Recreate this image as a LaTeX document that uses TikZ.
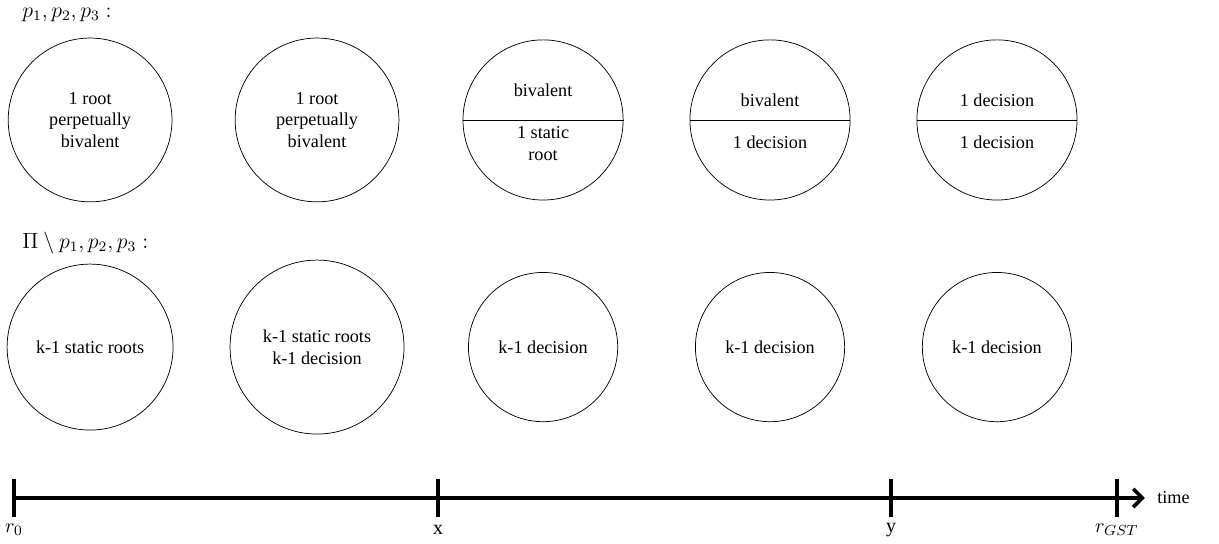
\documentclass[tikz,border=0pt]{standalone}
\usepackage[no-math]{fontspec}
\setmainfont{Liberation Serif}
\usepackage{amsmath}
\usepackage{amssymb}
\usepackage{tikz}
\usetikzlibrary{calc, arrows.meta}

\begin{document}
\begin{tikzpicture}[x=1pt, y=-1pt,
    state/.style={draw, circle, align=center, inner sep=0pt},
    bigstate/.style={state, minimum size=90pt},
    splitstate/.style={state, minimum size=88pt},
    smallstate/.style={state, minimum size=82pt},
    header/.style={anchor=west, inner sep=0pt, font=\large},
    timeline/.style={line width=2pt},
    ticklabel/.style={inner sep=0pt, font=\fontsize{11}{13}\selectfont}]
    \useasboundingbox (0,0) rectangle (669.8,298.4);

    % processes p1, p2, p3
    \node[header] (hdrtop) at (12.1,8.2) {$p_1, p_2, p_3:$};
    \node[bigstate] (top1) at (49.5,65.9) {1 root\\perpetually\\bivalent};
    \node[bigstate] (top2) at (174.2,65.9) {1 root\\perpetually\\bivalent};
    \node[splitstate] (top3) at (298.4,65.9) {};
    \node[splitstate] (top4) at (423.1,65.9) {};
    \node[splitstate] (top5) at (547.8,65.9) {};
    \foreach \n in {top3,top4,top5}
        \draw (\n.west) -- (\n.east);
    \node (top3up) at ($(top3)+(0,-16.5)$) {bivalent};
    \node[align=center] (top3lo) at ($(top3)+(0,12.9)$) {1 static\\root};
    \node (top4up) at ($(top4)+(0,-11)$) {bivalent};
    \node (top4lo) at ($(top4)+(0,12.1)$) {1 decision};
    \node (top5up) at ($(top5)+(0,-11)$) {1 decision};
    \node (top5lo) at ($(top5)+(0,12.1)$) {1 decision};

    % remaining processes
    \node[header] (hdrbot) at (12.1,133.5) {$\Pi \setminus p_1, p_2, p_3:$};
    \node[state, minimum size=91.2pt] (bot1) at (49.5,190.7) {k-1 static roots};
    \node[state, minimum size=95.6pt] (bot2) at (174.2,190.7) {k-1 static roots\\k-1 decision};
    \node[smallstate] (bot3) at (298.4,190.7) {k-1 decision};
    \node[smallstate] (bot4) at (423.1,190.7) {k-1 decision};
    \node[smallstate] (bot5) at (547.8,190.7) {k-1 decision};

    % time axis
    \coordinate (r0) at (7.7,273.6);
    \coordinate (rx) at (240.7,273.6);
    \coordinate (ry) at (489.6,273.6);
    \coordinate (rgst) at (613.7,273.6);
    \coordinate (tend) at (629.1,273.6);
    \draw[timeline, -{Straight Barb[length=5pt, width=10pt]}] (r0) -- (tend);
    \foreach \t in {r0,rx,ry,rgst}
        \draw[timeline] ($(\t)+(0,-10.4)$) -- ($(\t)+(0,10.4)$);
    \node[anchor=west, inner sep=0pt] (timelbl) at ($(tend)+(6.6,0)$) {time};
    \node[ticklabel] (lr0) at ($(r0)+(0,17.5)$) {$r_0$};
    \node[ticklabel] (lrx) at ($(rx)+(0,17.5)$) {x};
    \node[ticklabel] (lry) at ($(ry)+(0,17.5)$) {y};
    \node[ticklabel] (lrgst) at ($(rgst)+(0,17.5)$) {$r_{GST}$};
\end{tikzpicture}
\end{document}
